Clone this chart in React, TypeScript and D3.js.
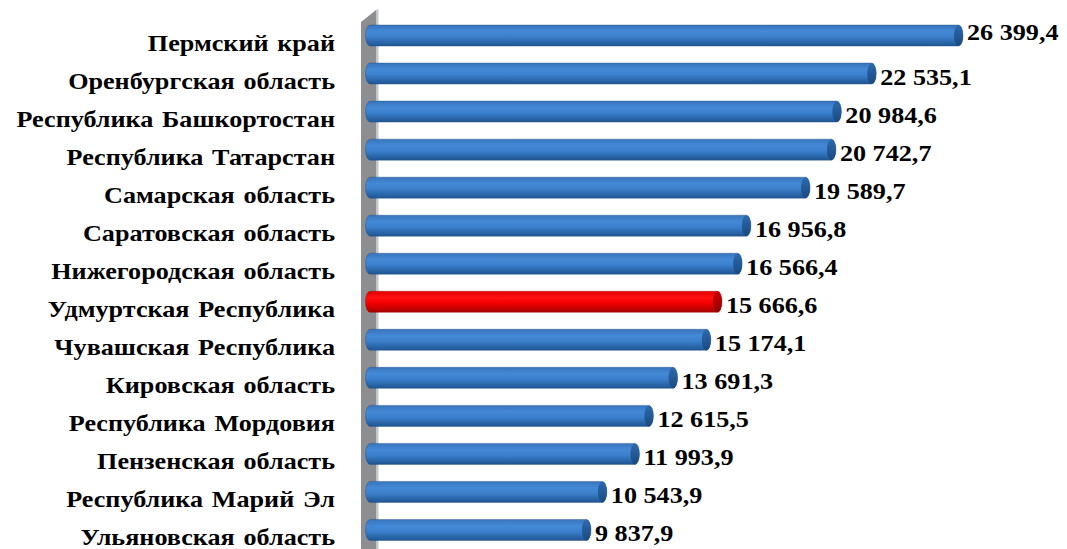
import React from "react";
import * as d3 from "d3";

const categories = [
  "Пермский край",
  "Оренбургская область",
  "Республика Башкортостан",
  "Республика Татарстан",
  "Самарская область",
  "Саратовская область",
  "Нижегородская область",
  "Удмуртская Республика",
  "Чувашская Республика",
  "Кировская область",
  "Республика Мордовия",
  "Пензенская область",
  "Республика Марий Эл",
  "Ульяновская область",
];
const values = [
  26399.4, 22535.1, 20984.6, 20742.7, 19589.7, 16956.8, 16566.4, 15666.6,
  15174.1, 13691.3, 12615.5, 11993.9, 10543.9, 9837.9,
];
const highlighted = ["Удмуртская Республика"];

const W = 1067;
const H = 549;

const fmt = (v: number) => {
  const s = v.toFixed(1);
  const [i, d] = s.split(".");
  return i.replace(/\B(?=(\d{3})+(?!\d))/g, " ") + "," + d;
};

export default function App() {
  const x = d3.scaleLinear().domain([0, 26399.4]).range([370, 963]);
  const y = d3.scalePoint<string>().domain(categories).range([16.5, 549]).padding(0.5);
  const bh = 21;
  const rx = 4.5;
  const font = "'Liberation Serif', 'Times New Roman', Tinos, serif";
  const sx = 1.09;

  return (
    <svg width={W} height={H} style={{ position: "absolute", left: 0, top: 0, background: "#fff" }}>
      <defs>
        <linearGradient id="gBlue" x1="0" y1="0" x2="0" y2="1">
          <stop offset="0" stopColor="#3874BC" />
          <stop offset="0.3" stopColor="#4389D6" />
          <stop offset="0.55" stopColor="#3B81CE" />
          <stop offset="1" stopColor="#1F5592" />
        </linearGradient>
        <linearGradient id="gBlueCap" x1="0" y1="0" x2="0" y2="1">
          <stop offset="0" stopColor="#2D6AAE" />
          <stop offset="1" stopColor="#1A4A80" />
        </linearGradient>
        <linearGradient id="gRed" x1="0" y1="0" x2="0" y2="1">
          <stop offset="0" stopColor="#E00000" />
          <stop offset="0.3" stopColor="#FF1010" />
          <stop offset="0.55" stopColor="#F50000" />
          <stop offset="1" stopColor="#A80000" />
        </linearGradient>
        <linearGradient id="gRedCap" x1="0" y1="0" x2="0" y2="1">
          <stop offset="0" stopColor="#D00000" />
          <stop offset="1" stopColor="#900000" />
        </linearGradient>
      </defs>
      {/* wall */}
      <path d="M361,22 L376,10 L376,549 L361,549 Z" fill="#8C8E91" />
      <path d="M376,10 L378.5,9 L378.5,549 L376,549 Z" fill="#C4C6C9" />
      {categories.map((c, i) => {
        const cy = y(c)!;
        const top = cy - bh / 2;
        const bot = cy + bh / 2;
        const x0 = x(0);
        const x1 = x(values[i]) - rx;
        const hl = highlighted.includes(c);
        const body = `M${x0},${top} L${x1},${top} A${rx},${bh / 2} 0 0 1 ${x1},${bot} L${x0},${bot} A${rx},${bh / 2} 0 0 1 ${x0},${top} Z`;
        const vy = i === 0 ? cy + 4.5 : cy + 11;
        return (
          <g key={c}>
            <path d={body} fill={hl ? "url(#gRed)" : "url(#gBlue)"} stroke={hl ? "#9A0000" : "#1F4E85"} strokeWidth={0.4} />
            <ellipse cx={x1} cy={cy} rx={rx} ry={bh / 2} fill={hl ? "url(#gRedCap)" : "url(#gBlueCap)"} />
            <text
              transform={`translate(335,${cy + 15.5}) scale(${sx},1)`}
              textAnchor="end"
              fontFamily={font}
              fontWeight="bold"
              fontSize={24}
              wordSpacing={2}
              fill="#000"
            >
              {c}
            </text>
            <text
              transform={`translate(${x(values[i]) + 4},${vy}) scale(${sx},1)`}
              fontFamily={font}
              fontWeight="bold"
              fontSize={24}
              fill="#000"
            >
              {fmt(values[i])}
            </text>
          </g>
        );
      })}
    </svg>
  );
}
